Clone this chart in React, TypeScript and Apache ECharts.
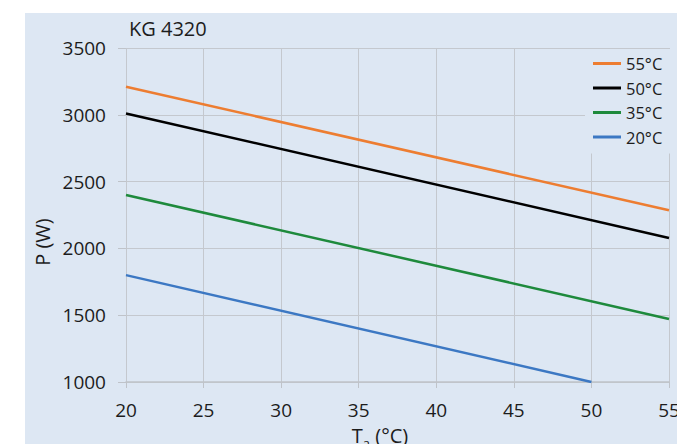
import React, { useEffect, useRef } from "react";
import * as echarts from "echarts";

const seriesNames = ["55°C", "50°C", "35°C", "20°C"];
const colors = ["#ED7D31", "#000000", "#1E8A3C", "#3C78C3"];
const tempA = [20, 55];
const p55 = [3210, 2285];
const p50 = [3010, 2078];
const p35 = [2400, 1472];
const tempA20 = [20, 50];
const p20 = [1800, 1000];

const FONT = "'Open Sans', 'Noto Sans', sans-serif";
const BG = "#dde7f3";
const TXT = "#1c1c1c";

export default function App() {
  const ref = useRef<HTMLDivElement>(null);
  useEffect(() => {
    if (!ref.current) return;
    const chart = echarts.init(ref.current, undefined, { renderer: "svg" });
    const mk = (xs: number[], ys: number[]) => xs.map((x, i) => [x, ys[i]]);
    const datas = [mk(tempA, p55), mk(tempA, p50), mk(tempA, p35), mk(tempA20, p20)];
    chart.setOption({
      animation: false,
      textStyle: { fontFamily: FONT },
      graphic: [
        {
          type: "rect",
          z: -100,
          silent: true,
          shape: { x: 25, y: 13, width: 700, height: 500 },
          style: { fill: BG },
        },
        {
          type: "text",
          x: 42,
          y: 242,
          rotation: Math.PI / 2,
          silent: true,
          style: {
            text: "P (W)",
            fontFamily: FONT,
            fontSize: 20,
            fill: TXT,
            align: "center",
            verticalAlign: "middle",
          },
        },
        {
          type: "text",
          x: 380,
          y: 422,
          silent: true,
          style: {
            text: "{n|T}{s|a}{n| (°C)}",
            align: "center",
            verticalAlign: "top",
            rich: {
              n: { fontFamily: FONT, fontSize: 20, fill: TXT, color: TXT },
              s: { fontFamily: FONT, fontSize: 13, fill: TXT, color: TXT, verticalAlign: "bottom", padding: [14, 0, 0, 0] },
            },
          },
        },
      ],
      title: {
        text: "KG 4320",
        left: 124,
        top: 13,
        textStyle: { fontFamily: FONT, fontSize: 20, fontWeight: "normal", color: TXT },
      },
      legend: {
        data: seriesNames,
        orient: "vertical",
        left: 585,
        top: 49,
        padding: [6, 12, 8, 8],
        backgroundColor: BG,
        itemWidth: 28,
        itemHeight: 3,
        itemGap: 7.5,
        icon: "rect",
        textStyle: { fontFamily: FONT, fontSize: 16.5, color: TXT, lineHeight: 16 },
      },
      grid: { left: 126, right: 8, top: 48, bottom: 62, outerBoundsMode: "none", containLabel: false },
      xAxis: {
        type: "value",
        min: 20,
        max: 55,
        interval: 5,
        axisLine: { show: true, lineStyle: { color: "#bfc3c9", width: 1.5 } },
        axisTick: { show: true, length: 6, lineStyle: { color: "#bfc3c9" } },
        axisLabel: { fontFamily: FONT, fontSize: 19, color: TXT, margin: 18 },
        splitLine: { show: true, lineStyle: { color: "#c4c8ce", width: 1 } },
      },
      yAxis: {
        type: "value",
        min: 1000,
        max: 3500,
        interval: 500,
        axisLine: { show: false },
        axisTick: { show: true, length: 8, lineStyle: { color: "#bfc3c9" } },
        axisLabel: { fontFamily: FONT, fontSize: 19, color: TXT, margin: 20, formatter: (v: number) => String(v) },
        splitLine: { show: true, lineStyle: { color: "#c4c8ce", width: 1 } },
      },
      series: seriesNames.map((n, i) => ({
        name: n,
        type: "line",
        data: datas[i],
        symbol: "none",
        color: colors[i],
        lineStyle: { color: colors[i], width: 2.5 },
        z: 10 - i,
      })),
    });
    return () => chart.dispose();
  }, []);
  return (
    <div
      ref={ref}
      style={{ position: "fixed", left: 0, top: 0, width: 677, height: 444, background: "#fff" }}
    />
  );
}
